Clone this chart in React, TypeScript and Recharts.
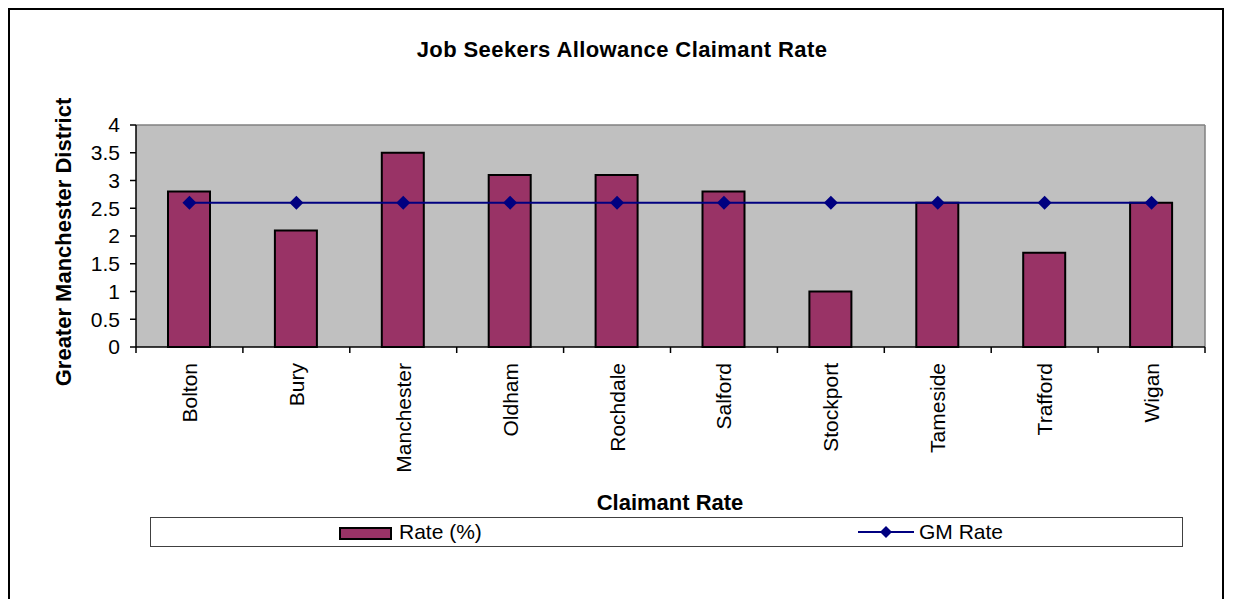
import React from "react";
import {
  ComposedChart,
  Bar,
  Line,
  XAxis,
  YAxis,
  CartesianGrid,
} from "recharts";

const districts = [
  "Bolton",
  "Bury",
  "Manchester",
  "Oldham",
  "Rochdale",
  "Salford",
  "Stockport",
  "Tameside",
  "Trafford",
  "Wigan",
];
const rates = [2.8, 2.1, 3.5, 3.1, 3.1, 2.8, 1.0, 2.6, 1.7, 2.6];
const gmRates = [2.6, 2.6, 2.6, 2.6, 2.6, 2.6, 2.6, 2.6, 2.6, 2.6];
const yTicks = [0, 0.5, 1, 1.5, 2, 2.5, 3, 3.5, 4];

const data = districts.map((name, i) => ({
  name,
  rate: rates[i],
  gm: gmRates[i],
}));

const FONT = "'Liberation Sans', Arial, sans-serif";
const BAR_COLOR = "#993366";
const LINE_COLOR = "#000080";

const CHART_W = 1212;
const MARGIN = { top: 115, right: 17, bottom: 103, left: 66 };
const Y_AXIS_W = 60;
const BAND = (CHART_W - MARGIN.left - MARGIN.right - Y_AXIS_W) / districts.length;

function Diamond(props: any) {
  const { cx, cy, index } = props;
  if (cx == null || cy == null) return <g key={`d-${index}`} />;
  return (
    <path
      key={`d-${index}`}
      d={`M${cx},${cy - 7} L${cx + 7},${cy} L${cx},${cy + 7} L${cx - 7},${cy} Z`}
      fill={LINE_COLOR}
    />
  );
}

function DistrictTick(props: any) {
  const { x, y, payload, index } = props;
  const left = x - BAND / 2;
  const right = x + BAND / 2;
  const ly = y + 16;
  return (
    <g>
      <line x1={left} y1={y} x2={left} y2={y + 6} stroke="#000" strokeWidth={1.5} />
      {index === districts.length - 1 && (
        <line x1={right} y1={y} x2={right} y2={y + 6} stroke="#000" strokeWidth={1.5} />
      )}
      <text
        x={x}
        y={ly}
        transform={`rotate(-90 ${x} ${ly})`}
        textAnchor="end"
        dominantBaseline="central"
        fontSize={21}
        fontFamily={FONT}
        fill="#000"
      >
        {payload.value}
      </text>
    </g>
  );
}

export default function App() {
  return (
    <div
      style={{
        position: "relative",
        width: 1212,
        height: 600,
        border: "2px solid #000",
        fontFamily: FONT,
        background: "#fff",
      }}
    >
      {/* title */}
      <div
        style={{
          position: "absolute",
          left: 612,
          top: 40,
          transform: "translate(-50%, -50%)",
          fontSize: 22,
          fontWeight: "bold",
          letterSpacing: 0.4,
          whiteSpace: "nowrap",
        }}
      >
        Job Seekers Allowance Claimant Rate
      </div>

      {/* y axis title */}
      <div
        style={{
          position: "absolute",
          left: 54,
          top: 232,
          transform: "translate(-50%, -50%) rotate(-90deg)",
          fontSize: 22,
          fontWeight: "bold",
          whiteSpace: "nowrap",
        }}
      >
        Greater Manchester District
      </div>

      <ComposedChart width={CHART_W} height={590} data={data} margin={MARGIN}>
        <CartesianGrid
          fill="#C0C0C0"
          stroke="#808080"
          strokeWidth={1.5}
          horizontalCoordinatesGenerator={({ offset }: any) => [offset.top]}
          verticalCoordinatesGenerator={({ offset }: any) => [
            offset.left + offset.width,
          ]}
        />
        <XAxis
          dataKey="name"
          axisLine={{ stroke: "#000", strokeWidth: 1.5 }}
          tickLine={false}
          tickSize={0}
          tickMargin={0}
          height={150}
          interval={0}
          tick={<DistrictTick />}
        />
        <YAxis
          width={Y_AXIS_W}
          domain={[0, 4]}
          ticks={yTicks}
          interval={0}
          axisLine={{ stroke: "#000", strokeWidth: 1.5 }}
          tickLine={{ stroke: "#000", strokeWidth: 1.5 }}
          tickSize={6}
          tickMargin={10}
          tick={{ fill: "#000", fontSize: 21, fontFamily: FONT }}
        />
        <Bar
          dataKey="rate"
          fill={BAR_COLOR}
          stroke="#000"
          strokeWidth={2}
          barSize={42}
          isAnimationActive={false}
        />
        <Line
          dataKey="gm"
          stroke={LINE_COLOR}
          strokeWidth={2}
          dot={Diamond}
          activeDot={false}
          isAnimationActive={false}
        />
      </ComposedChart>

      {/* x axis title */}
      <div
        style={{
          position: "absolute",
          left: 660,
          top: 493,
          transform: "translate(-50%, -50%)",
          fontSize: 22,
          fontWeight: "bold",
          whiteSpace: "nowrap",
        }}
      >
        Claimant Rate
      </div>

      {/* legend */}
      <div
        style={{
          position: "absolute",
          left: 140,
          top: 507,
          width: 1031,
          height: 28,
          border: "1px solid #404040",
          fontSize: 21,
        }}
      >
        <div
          style={{
            position: "absolute",
            left: 188,
            top: 9,
            width: 49,
            height: 9,
            background: BAR_COLOR,
            border: "2px solid #000",
          }}
        />
        <div
          style={{
            position: "absolute",
            left: 248,
            top: 14,
            transform: "translateY(-50%)",
            whiteSpace: "nowrap",
          }}
        >
          Rate (%)
        </div>
        <svg
          style={{ position: "absolute", left: 707, top: 7 }}
          width={56}
          height={14}
        >
          <line x1={0} y1={7} x2={56} y2={7} stroke={LINE_COLOR} strokeWidth={2} />
          <path d="M28,1 L34,7 L28,13 L22,7 Z" fill={LINE_COLOR} />
        </svg>
        <div
          style={{
            position: "absolute",
            left: 768,
            top: 14,
            transform: "translateY(-50%)",
            whiteSpace: "nowrap",
          }}
        >
          GM Rate
        </div>
      </div>
    </div>
  );
}
